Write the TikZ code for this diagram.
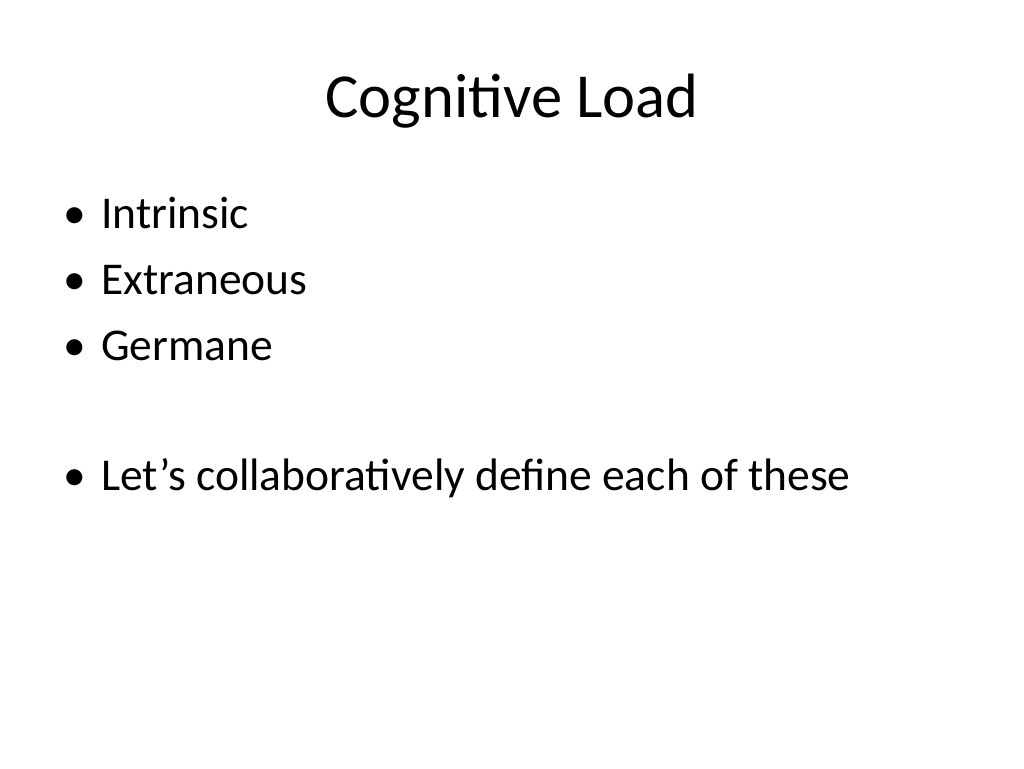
\documentclass[tikz,border=0pt]{standalone}
\usepackage{fontspec}
\setmainfont{Carlito}
\begin{document}
\begin{tikzpicture}[x=1pt,y=-1pt,
  bt/.style={anchor=base west,inner sep=0pt,font=\fontsize{45.5}{50}\selectfont},
  bl/.style={anchor=base,inner sep=0pt,font=\fontsize{45.5}{50}\selectfont}]
\useasboundingbox[fill=white] (0,0) rectangle (1024,768);
\node[anchor=base,inner sep=0pt,font=\fontsize{62.6}{70}\selectfont] (title) at (512,117) {Cognitive Load};
\foreach \n/\y/\t in {a/228/Intrinsic,b/294/Extraneous,c/360/Germane,d/490/Let’s collaboratively define each of these}{
  \node[bl] (m\n) at (75,\y) {•};
  \node[bt] (t\n) at (101,\y) {\t};
}
\end{tikzpicture}
\end{document}
